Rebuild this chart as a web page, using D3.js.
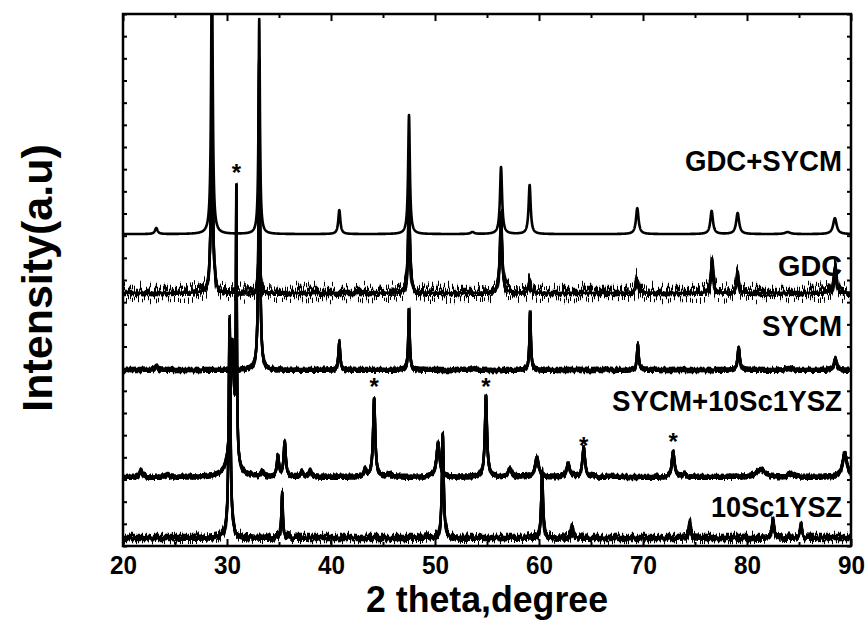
<!DOCTYPE html>
<html><head><meta charset="utf-8">
<script src="https://cdn.jsdelivr.net/npm/d3@7"></script>
<style>
html,body{margin:0;padding:0;background:#fff;}
svg{display:block;}
text{font-family:"Liberation Sans",Arial,Helvetica,sans-serif;font-weight:bold;fill:#000;}
</style>
</head><body>
<svg id="chart" width="867" height="627"></svg>
<script>
// ---------------- DATA ----------------
const seriesNames   = ["GDC+SYCM", "GDC", "SYCM", "SYCM+10Sc1YSZ", "10Sc1YSZ"];
const seriesOffsets = [1407, 1141, 794, 311, 36];          // vertical stacking offset (a.u.)

// Peak tables per pattern: 2θ position (deg), height (a.u.), half width (deg)
const gdcSycmPeakPos    = [23.2, 28.55, 33.1, 40.8, 47.5, 53.6, 56.35, 59.1, 69.45, 76.6, 79.1, 83.9, 88.45];
const gdcSycmPeakHeight = [27, 1300, 970, 108, 537, 9, 302, 221, 117, 104, 95, 9, 72];
const gdcSycmPeakWidth  = [0.15, 0.09, 0.08, 0.12, 0.1, 0.2, 0.12, 0.12, 0.15, 0.15, 0.17, 0.3, 0.2];

const gdcPeakPos    = [28.55, 33.1, 47.5, 56.35, 59.1, 69.45, 76.65, 79.1, 88.45];
const gdcPeakHeight = [900, 250, 450, 360, 50, 59, 135, 90, 117];
const gdcPeakWidth  = [0.1, 0.1, 0.1, 0.12, 0.12, 0.15, 0.12, 0.12, 0.15];

const sycmPeakPos    = [23.2, 33.1, 40.8, 47.5, 53.6, 59.15, 69.5, 79.2, 84.0, 88.5];
const sycmPeakHeight = [18, 1400, 122, 275, 7, 262, 113, 99, 9, 50];
const sycmPeakWidth  = [0.15, 0.08, 0.1, 0.08, 0.2, 0.08, 0.1, 0.12, 0.3, 0.15];

const sycmScPeakPos    = [21.7, 24.3, 30.5, 30.9, 33.4, 34.9, 35.55, 37.2, 38.0, 43.3, 44.15, 45.6, 50.3, 54.9, 57.2, 59.8, 62.8, 64.3, 72.9, 74.0, 81.3, 84.3, 89.4];
const sycmScPeakHeight = [32, 9, 600, 1180, 23, 90, 153, 23, 27, 32, 352, 14, 153, 365, 36, 86, 59, 131, 113, 14, 32, 14, 108];
const sycmScPeakWidth  = [0.15, 0.2, 0.22, 0.05, 0.15, 0.12, 0.12, 0.15, 0.15, 0.15, 0.12, 0.2, 0.18, 0.12, 0.2, 0.2, 0.18, 0.15, 0.15, 0.2, 0.5, 0.3, 0.25];

const scPeakPos    = [30.25, 35.3, 50.75, 60.3, 63.2, 74.5, 82.5, 85.2];
const scPeakHeight = [988, 203, 465, 298, 50, 72, 81, 50];
const scPeakWidth  = [0.1, 0.08, 0.1, 0.1, 0.12, 0.1, 0.12, 0.12];

// Impurity markers (*) : 2θ and intensity level (a.u.)
const starPos   = [30.9, 44.15, 54.9, 64.3, 72.9];
const starLevel = [1705, 740, 740, 474, 492];

// Axis ticks
const xTickLabels = [20, 30, 40, 50, 60, 70, 80, 90];
const xMinorTicks = [25, 35, 45, 55, 65, 75, 85];
const yTickValues = d3.range(0, 2401, 100);

// ---------------- LAYOUT / STYLE ----------------
const plot = {left: 123, right: 851, top: 14, bottom: 546};
const labelLayout = [               // series label: baseline level (a.u.), rendered width
  {y: 1690, w: 157}, {y: 1217, w: 64}, {y: 947, w: 80}, {y: 610, w: 230}, {y: 131, w: 131}
];
const noiseScale = [0, 20, 4, 4, 10];   // visual detector-noise texture strength

const x = d3.scaleLinear().domain([20, 90]).range([plot.left, plot.right]);
const y = d3.scaleLinear().domain([0, 2400]).range([plot.bottom, plot.top]);

const svg = d3.select("#chart");
const defs = svg.append("defs");
defs.append("clipPath").attr("id", "plotClip")
  .append("rect").attr("x", plot.left).attr("y", plot.top)
  .attr("width", plot.right - plot.left).attr("height", plot.bottom - plot.top);

noiseScale.forEach((s, i) => {
  if (!s) return;
  const f = defs.append("filter").attr("id", "noise" + i)
    .attr("x", "-0.02").attr("y", "-0.3").attr("width", "1.04").attr("height", "1.6")
    .attr("color-interpolation-filters", "sRGB");
  [0, 1, 2].forEach(k => {
    f.append("feTurbulence").attr("type", "fractalNoise").attr("baseFrequency", "0.5 0.02")
      .attr("numOctaves", 1).attr("seed", 3 + i * 7 + k * 13).attr("result", "t" + k);
    f.append("feColorMatrix").attr("in", "t" + k).attr("type", "matrix")
      .attr("values", "0 0 0 0 0.5  1.8 0 0 0 -0.4  0 0 0 0 0  0 0 0 0 1").attr("result", "m" + k);
    f.append("feDisplacementMap").attr("in", "SourceGraphic").attr("in2", "m" + k)
      .attr("scale", s).attr("xChannelSelector", "R").attr("yChannelSelector", "G").attr("result", "d" + k);
  });
  const mg = f.append("feMerge").attr("result", "merged");
  [0, 1, 2].forEach(k => mg.append("feMergeNode").attr("in", "d" + k));
  f.append("feMorphology").attr("in", "merged").attr("operator", "dilate").attr("radius", "0 1");
});

const peakTables = [
  {pos: gdcSycmPeakPos, h: gdcSycmPeakHeight, w: gdcSycmPeakWidth},
  {pos: gdcPeakPos, h: gdcPeakHeight, w: gdcPeakWidth},
  {pos: sycmPeakPos, h: sycmPeakHeight, w: sycmPeakWidth},
  {pos: sycmScPeakPos, h: sycmScPeakHeight, w: sycmScPeakWidth},
  {pos: scPeakPos, h: scPeakHeight, w: scPeakWidth}
];

const grid = d3.range(20, 90.0001, 0.01);
function pattern(i) {
  const t = peakTables[i], off = seriesOffsets[i];
  return grid.map(a => {
    let v = off;
    for (let k = 0; k < t.pos.length; k++) {
      const d = a - t.pos[k], w = t.w[k];
      v += t.h[k] * w * w / (d * d + w * w);
    }
    return [a, v];
  });
}

const line = d3.line().x(d => x(d[0])).y(d => y(d[1]));
const g = svg.append("g").attr("clip-path", "url(#plotClip)");
seriesNames.forEach((name, i) => {
  const data = pattern(i);
  g.append("path").datum(data).attr("d", line)
    .attr("fill", "none").attr("stroke", "#000").attr("stroke-width", 2.6)
    .attr("stroke-linejoin", "round");
  if (noiseScale[i]) {
    g.append("path").datum(data).attr("d", line)
      .attr("fill", "none").attr("stroke", "#000").attr("stroke-width", 2.4)
      .attr("filter", "url(#noise" + i + ")");
  }
});

// stars
svg.append("g").selectAll("text").data(starPos).join("text")
  .attr("x", d => x(d)).attr("y", (d, i) => y(starLevel[i]))
  .attr("dy", "0.55em").attr("text-anchor", "middle")
  .style("font-size", "24px").text("*");

// series labels
svg.append("g").selectAll("text").data(seriesNames).join("text")
  .attr("x", 842).attr("y", (d, i) => y(labelLayout[i].y))
  .attr("text-anchor", "end")
  .attr("textLength", (d, i) => labelLayout[i].w).attr("lengthAdjust", "spacingAndGlyphs")
  .style("font-size", "29px").text(d => d);

// axes (ticks inward, mirrored)
const axB = d3.axisBottom(x).tickValues(xTickLabels).tickSize(-7).tickPadding(10).tickFormat(d3.format("d"));
const axBm = d3.axisBottom(x).tickValues(xMinorTicks).tickSize(-4).tickFormat("");
const axT = d3.axisTop(x).tickValues(xTickLabels).tickSize(-7).tickFormat("");
const axTm = d3.axisTop(x).tickValues(xMinorTicks).tickSize(-4).tickFormat("");
const axL = d3.axisLeft(y).tickValues(yTickValues).tickSize(-4).tickFormat("");
const axR = d3.axisRight(y).tickValues(yTickValues).tickSize(-4).tickFormat("");

function styleAxis(sel) {
  sel.select(".domain").remove();
  sel.selectAll(".tick line").attr("stroke", "#000").attr("stroke-width", 2);
}
svg.append("g").attr("transform", `translate(0,${plot.bottom})`).call(axB).call(styleAxis)
  .selectAll("text").attr("fill", "#000")
  .attr("textLength", 27).attr("lengthAdjust", "spacingAndGlyphs")
  .style("font-size", "26px").style("font-family", "'Liberation Sans',Arial,sans-serif").style("font-weight", "bold");
svg.append("g").attr("transform", `translate(0,${plot.bottom})`).call(axBm).call(styleAxis);
svg.append("g").attr("transform", `translate(0,${plot.top})`).call(axT).call(styleAxis);
svg.append("g").attr("transform", `translate(0,${plot.top})`).call(axTm).call(styleAxis);
svg.append("g").attr("transform", `translate(${plot.left},0)`).call(axL).call(styleAxis);
svg.append("g").attr("transform", `translate(${plot.right},0)`).call(axR).call(styleAxis);

svg.append("rect").attr("x", plot.left).attr("y", plot.top)
  .attr("width", plot.right - plot.left).attr("height", plot.bottom - plot.top)
  .attr("fill", "none").attr("stroke", "#000").attr("stroke-width", 2.5);

// axis titles
svg.append("text").attr("x", (plot.left + plot.right) / 2).attr("y", 612)
  .attr("text-anchor", "middle").attr("textLength", 242).attr("lengthAdjust", "spacingAndGlyphs")
  .style("font-size", "36px").text("2 theta,degree");
svg.append("text").attr("transform", `translate(52,278) rotate(-90)`)
  .attr("text-anchor", "middle")
  .style("font-size", "43px").text("Intensity(a.u)");
</script>
</body></html>
